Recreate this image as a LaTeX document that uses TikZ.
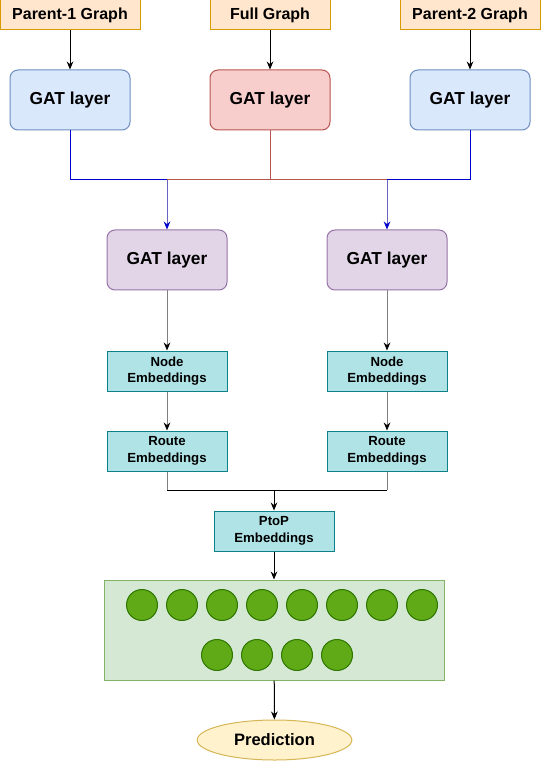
\documentclass[tikz,border=0pt]{standalone}
\usepackage{fontspec}
\setmainfont{Liberation Sans}
\usepackage{xcolor}
\usetikzlibrary{arrows.meta,shapes.geometric}

\definecolor{inFill}{HTML}{FFE6CC}
\definecolor{inDraw}{HTML}{D79B00}
\definecolor{blFill}{HTML}{DAE8FC}
\definecolor{blDraw}{HTML}{6C8EBF}
\definecolor{rdFill}{HTML}{F8CECC}
\definecolor{rdDraw}{HTML}{B85450}
\definecolor{puFill}{HTML}{E1D5E7}
\definecolor{puDraw}{HTML}{9673A6}
\definecolor{tlFill}{HTML}{B0E3E6}
\definecolor{tlDraw}{HTML}{0E8088}
\definecolor{grFill}{HTML}{D5E8D4}
\definecolor{grDraw}{HTML}{82B366}
\definecolor{dotFill}{HTML}{60A917}
\definecolor{dotDraw}{HTML}{2D7600}
\definecolor{yeFill}{HTML}{FFF2CC}
\definecolor{yeDraw}{HTML}{D6B656}
\definecolor{edgeBlue}{HTML}{0000CC}
\definecolor{edgeMix}{HTML}{6666C0}

\begin{document}
\begin{tikzpicture}[x=0.75pt,y=0.75pt,yscale=-1,xscale=1,
  every node/.style={inner sep=0.75pt,line width=0.75pt,font=\bfseries},
  inbox/.style={draw=inDraw,fill=inFill,minimum height=22.5pt,font=\fontsize{12}{14}\selectfont\bfseries},
  gatbox/.style={draw=#1Draw,fill=#1Fill,rounded corners=6pt,minimum width=90pt,minimum height=45pt,font=\fontsize{13}{15}\selectfont\bfseries},
  embbox/.style={draw=tlDraw,fill=tlFill,minimum width=90pt,minimum height=30pt,align=center,font=\fontsize{9.9}{12.5}\selectfont\bfseries},
  dot/.style={circle,draw=dotDraw,fill=dotFill,minimum size=23.25pt,inner sep=0pt},
  arr/.style={line width=0.75pt,-{Stealth[length=6pt,width=5pt,color=black]}},
  link/.style={line width=0.75pt}]

\useasboundingbox (0,0) rectangle (541,762);

% inputs
\node[inbox,minimum width=105pt] (p1) at (70,15) {Parent-1 Graph};
\node[inbox,minimum width=90pt] (fg) at (270,15) {Full Graph};
\node[inbox,minimum width=105pt] (p2) at (470,15) {Parent-2 Graph};

% first GAT layers
\node[gatbox=bl] (g1) at (70,100) {GAT layer};
\node[gatbox=rd] (g0) at (270,100) {GAT layer};
\node[gatbox=bl] (g2) at (470,100) {GAT layer};

\draw[arr] (p1) -- (g1);
\draw[arr] (fg) -- (g0);
\draw[arr] (p2) -- (g2);

% second GAT layers
\node[gatbox=pu] (h1) at (167,260) {GAT layer};
\node[gatbox=pu] (h2) at (387,260) {GAT layer};

\coordinate (j1) at (167,180);
\coordinate (j0) at (270,180);
\coordinate (j2) at (387,180);

\draw[link,edgeBlue] (g1.south) |- (j1);
\draw[link,edgeBlue] (g2.south) |- (j2);
\draw[link,rdDraw] (g0.south) -- (j0);
\draw[link,rdDraw] (j1) -- (j2);
\draw[arr,edgeMix,-{Stealth[length=6pt,width=5pt,color=edgeBlue]}] (j1) -- (h1);
\draw[arr,edgeMix,-{Stealth[length=6pt,width=5pt,color=edgeBlue]}] (j2) -- (h2);

% embeddings
\node[embbox] (n1) at (167,371) {Node\\Embeddings};
\node[embbox] (n2) at (387,371) {Node\\Embeddings};
\node[embbox] (r1) at (167,451) {Route\\Embeddings};
\node[embbox] (r2) at (387,451) {Route\\Embeddings};
\node[embbox] (pp) at (274,531) {PtoP\\Embeddings};

\draw[arr,gray] (h1) -- (n1);
\draw[arr,gray] (h2) -- (n2);
\draw[arr,gray] (n1) -- (r1);
\draw[arr,gray] (n2) -- (r2);

\coordinate (j3) at (274,490);
\draw[link,gray] (r1.south) -- (r1.south |- j3);
\draw[link,gray] (r2.south) -- (r2.south |- j3);
\draw[link] (r1.south |- j3) -- (r2.south |- j3);
\draw[arr] (j3) -- (pp);

% output layer
\node[draw=grDraw,fill=grFill,minimum width=255pt,minimum height=75pt] (out) at (274,630) {};
\foreach \i in {0,...,7}
  \node[dot] (a\i) at ({142+40*\i},605) {};
\foreach \i in {0,...,3}
  \node[dot] (b\i) at ({217+40*\i},655) {};

\node[ellipse,draw=yeDraw,fill=yeFill,minimum width=116pt,minimum height=30pt,font=\fontsize{12.4}{14}\selectfont\bfseries] (pred) at (274.5,740) {Prediction};

\draw[arr] (pp) -- (out);
\draw[arr] (out) -- (pred);
\end{tikzpicture}
\end{document}
